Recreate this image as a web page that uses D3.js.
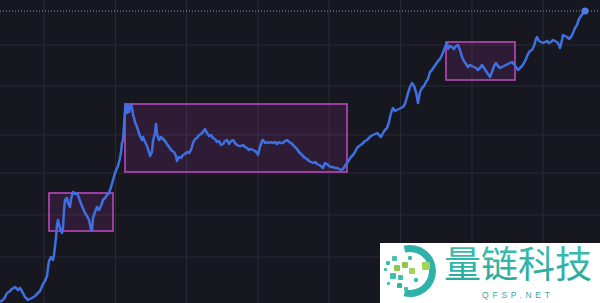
<!DOCTYPE html>
<html><head><meta charset="utf-8">
<script src="https://cdn.jsdelivr.net/npm/d3@7"></script>
<style>html,body{margin:0;padding:0;background:#16171f;overflow:hidden}svg{display:block}</style>
</head><body><svg id="c" width="600" height="303"></svg>
<script>
// ---- data ----
const days = [0,8,14,18,24,30,36,40,46,50,56,64,70,76,80,86,90,94,96,98,102,106,108,110,112,114,116,120,124,126,128,130,134,136,140,142,146,150,154,158,160,164,170,174,178,182,184,186,190,194,198,202,206,210,214,218,220,224,226,230,234,236,240,242,244,246,248,250,252,254,256,258,260,262,264,266,270,274,276,280,284,286,290,294,298,300,304,306,310,312,314,318,322,326,330,334,338,344,348,352,354,358,362,366,370,374,378,382,386,390,394,398,402,406,410,414,418,422,426,430,434,438,442,446,450,454,458,462,466,470,474,478,482,486,490,494,498,502,506,510,514,516,520,524,526,530,534,538,542,546,550,554,558,562,566,570,574,578,582,586,590,594,598,602,606,610,614,618,622,626,630,634,638,642,646,650,654,658,662,666,670,674,678,682,686,690,694,698,702,706,710,714,718,722,726,730,734,738,742,746,750,754,758,762,766,770,774,778,780,784,786,790,794,798,802,806,810,814,816,820,824,828,832,836,840,844,848,852,856,860,864,868,872,876,880,884,888,892,894,896,900,904,908,912,916,920,924,928,932,936,940,944,948,952,956,960,964,968,972,976,980,984,988,992,996,1000,1004,1008,1012,1016,1020,1024,1028,1032,1036,1040,1044,1048,1052,1056,1060,1064,1068,1072,1074,1078,1082,1086,1090,1094,1098,1102,1106,1110,1114,1118,1120,1124,1126,1130,1134,1138,1142,1146,1150,1154,1158,1162,1166,1170];
const prices = [10,40,100,110,140,160,130,150,100,60,30,50,70,100,120,190,220,270,350,420,460,430,480,570,650,780,830,750,700,750,930,1030,1050,1000,960,1040,1110,1090,1100,1050,1020,970,900,870,830,740,730,850,910,960,930,970,1030,1050,1080,1100,1130,1190,1230,1300,1350,1370,1450,1510,1600,1630,1780,1930,1990,1900,1970,1910,1950,1990,1950,1890,1810,1760,1730,1670,1630,1660,1610,1570,1510,1470,1510,1620,1700,1790,1690,1630,1660,1640,1620,1590,1560,1520,1510,1470,1420,1460,1450,1480,1490,1510,1500,1530,1600,1640,1650,1680,1690,1710,1740,1700,1670,1680,1650,1640,1610,1620,1580,1590,1620,1630,1590,1620,1630,1600,1580,1570,1570,1580,1560,1550,1530,1540,1530,1520,1500,1480,1560,1620,1630,1600,1610,1600,1610,1600,1610,1590,1610,1600,1600,1620,1630,1610,1600,1580,1560,1540,1510,1490,1470,1450,1440,1420,1410,1400,1410,1390,1380,1370,1350,1400,1390,1370,1360,1360,1350,1350,1340,1330,1340,1370,1400,1430,1460,1480,1510,1550,1570,1580,1600,1620,1630,1650,1670,1680,1690,1700,1680,1660,1700,1730,1750,1810,1860,1930,1950,1920,1930,1940,1950,1960,1990,2060,2100,2160,2200,2170,2110,2000,2110,2150,2170,2210,2240,2310,2330,2360,2390,2420,2440,2480,2530,2580,2600,2540,2570,2560,2540,2570,2580,2530,2460,2420,2390,2360,2380,2370,2360,2350,2330,2350,2380,2350,2320,2290,2260,2310,2370,2400,2370,2350,2360,2370,2380,2390,2400,2410,2390,2360,2330,2350,2370,2400,2440,2490,2520,2530,2570,2640,2660,2620,2610,2600,2610,2620,2600,2610,2630,2620,2610,2580,2550,2630,2680,2670,2660,2640,2660,2700,2750,2780,2840,2870,2900,2920];
// consolidation ranges
const boxStart = [98, 250, 892];
const boxEnd   = [226, 694, 1030];
const boxHigh  = [1100, 1990, 2610];
const boxLow   = [720, 1310, 2230];
// grid ticks
const xTicks = [88, 231, 373, 516, 658, 801, 944, 1086];
const yTicks = [460, 880, 1300, 1680, 2170, 2580];
const lastPrice = prices[prices.length - 1];

// ---- chart ----
const W = 600, H = 303;
const svg = d3.select('#c');
const x = d3.scaleLinear().domain([0, 1200]).range([0, W]);
const y = d3.scaleLinear().domain([0, 3030]).range([H, 0]);

svg.append('rect').attr('width', W).attr('height', H).attr('fill', '#16171f');

svg.append('g').selectAll('line').data(xTicks).join('line')
  .attr('x1', d => x(d)).attr('x2', d => x(d)).attr('y1', 0).attr('y2', H)
  .attr('stroke', '#282a34').attr('stroke-width', 1);
svg.append('g').selectAll('line').data(yTicks).join('line')
  .attr('y1', d => y(d)).attr('y2', d => y(d)).attr('x1', 0).attr('x2', W)
  .attr('stroke', '#282a34').attr('stroke-width', 1);

// last price dotted line
svg.append('line').attr('x1', 0).attr('x2', W)
  .attr('y1', y(lastPrice)).attr('y2', y(lastPrice))
  .attr('stroke', '#8b97b8').attr('stroke-width', 1).attr('stroke-dasharray', '1,2');

// boxes
const boxes = boxStart.map((s, i) => ({s, e: boxEnd[i], hi: boxHigh[i], lo: boxLow[i]}));
svg.append('g').selectAll('rect').data(boxes).join('rect')
  .attr('x', d => x(d.s)).attr('y', d => y(d.hi))
  .attr('width', d => x(d.e) - x(d.s)).attr('height', d => y(d.lo) - y(d.hi))
  .attr('fill', 'rgba(185,60,185,0.15)').attr('stroke', '#bb48bb').attr('stroke-width', 1.6);

// line
const pts = days.map((d, i) => [d, prices[i]]);
svg.append('path').datum(pts)
  .attr('d', d3.line().x(d => x(d[0])).y(d => y(d[1])))
  .attr('fill', 'none').attr('stroke', '#3f70e2').attr('stroke-width', 2.5)
  .attr('stroke-linejoin', 'round');

svg.append('circle').attr('cx', x(days[days.length - 1])).attr('cy', y(lastPrice))
  .attr('r', 3.6).attr('fill', '#4a7be8');

// ---- watermark ----
const wm = svg.append('g');
wm.append('rect').attr('x', 380).attr('y', 243).attr('width', 220).attr('height', 60).attr('fill', '#ffffff');
const defs = svg.append('defs');
const lg = defs.append('linearGradient').attr('id', 'tg').attr('x1', 0).attr('y1', 0).attr('x2', 0).attr('y2', 1);
lg.append('stop').attr('offset', '0%').attr('stop-color', '#45c4b4');
lg.append('stop').attr('offset', '100%').attr('stop-color', '#22a59c');
// arc of icon
const arc = d3.arc().innerRadius(19).outerRadius(26).startAngle(-0.25).endAngle(Math.PI + 0.25);
wm.append('path').attr('d', arc()).attr('transform', 'translate(410,271)').attr('fill', '#2fb3a8');
const sq = [
  [384,268,3,'#3bbfae'],[386,261,4,'#3bbfae'],[392,256,5,'#43c2b1'],[394,265,6,'#8cc84a'],
  [390,273,6,'#3bbfae'],[398,275,5,'#3bbfae'],[402,262,6,'#8cc84a'],[408,256,4,'#3bbfae'],
  [409,268,6,'#a5d25a'],[397,283,5,'#2fb3a8'],[404,287,4,'#3bbfae'],[387,282,3,'#3bbfae'],
  [422,262,8,'#a5d25a'],[414,278,4,'#3bbfae']
];
wm.selectAll('rect.sq').data(sq).join('rect').attr('class', 'sq')
  .attr('x', d => d[0]).attr('y', d => d[1]).attr('width', d => d[2]).attr('height', d => d[2])
  .attr('rx', 1).attr('fill', d => d[3]);
wm.append('text').attr('x', 444).attr('y', 278)
  .attr('font-family', '"Noto Sans CJK SC", sans-serif').attr('font-size', 37)
  .attr('textLength', 148).attr('lengthAdjust', 'spacingAndGlyphs')
  .attr('fill', 'url(#tg)').text('量链科技');
wm.append('text').attr('x', 482).attr('y', 297.5)
  .attr('font-family', '"Liberation Sans", sans-serif').attr('font-size', 8.5)
  .attr('textLength', 68).attr('lengthAdjust', 'spacing')
  .attr('fill', '#3aa9a0').text('QFSP.NET');
</script></body></html>
